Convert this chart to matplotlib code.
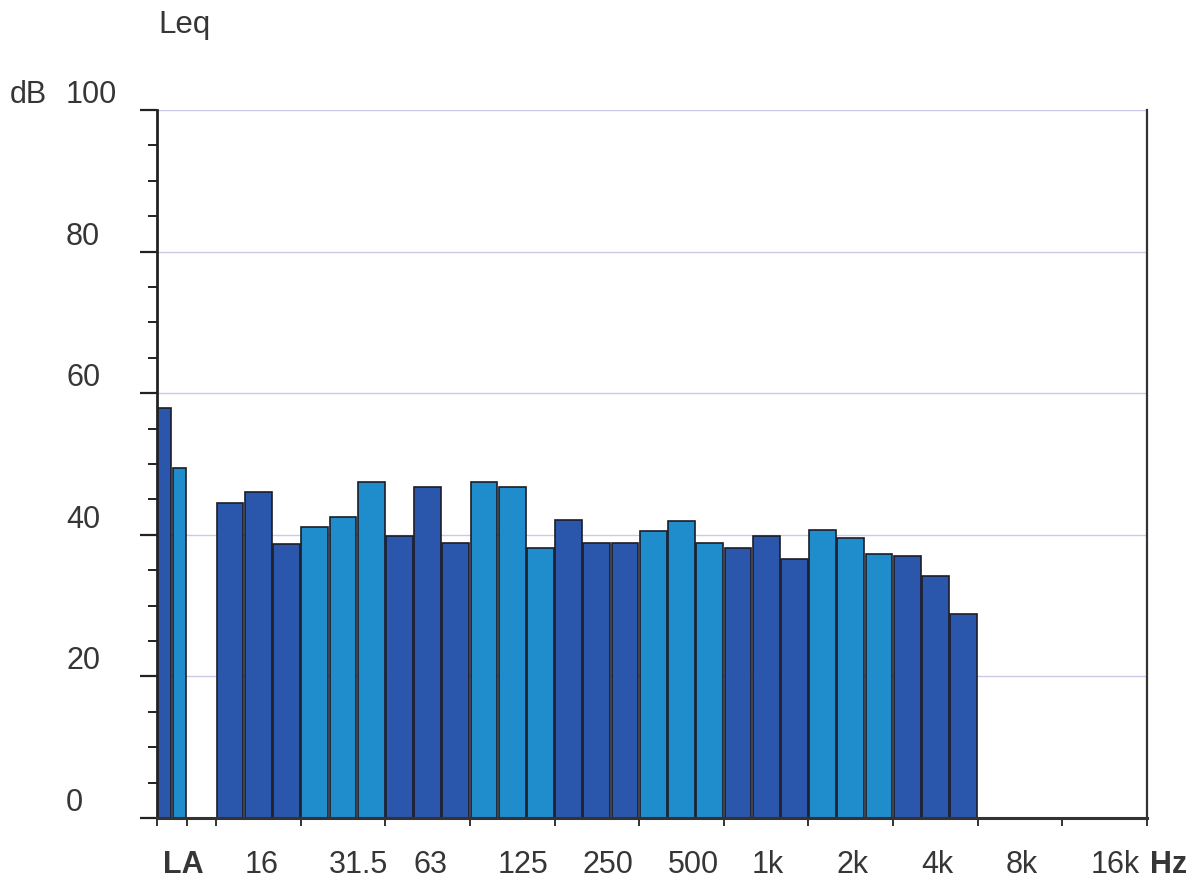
import matplotlib
matplotlib.use("Agg")
import matplotlib.pyplot as plt
from matplotlib.transforms import ScaledTranslation, blended_transform_factory

# ---- data ----
la_labels = ["LA", "LC"]
la_values = [57.9, 49.5]
# third-octave bands 12.5 Hz ... 20 kHz
band_values = [44.5, 46.1, 38.7, 41.1, 42.5, 47.4, 39.9, 46.8, 38.9,
               47.4, 46.7, 38.2, 42.1, 38.9, 38.9, 40.5, 41.9, 38.9,
               38.2, 39.8, 36.6, 40.7, 39.5, 37.3, 37.0, 34.2, 28.8,
               0, 0, 0, 0, 0, 0]
octave_labels = ["16", "31.5", "63", "125", "250", "500", "1k", "2k", "4k", "8k", "16k"]
y_ticks = [0, 20, 40, 60, 80, 100]

plt.rcParams['font.family'] = ['Liberation Sans', 'DejaVu Sans']
DARK = '#2a56ab'
LIGHT = '#1f8ccc'
EDGE = '#1c1c28'
TXT = '#363636'
FS = 22

W, H = 1192, 881
fig = plt.figure(figsize=(W / 100, H / 100), dpi=100)
ax = fig.add_axes([157 / W, 1 - 818 / H, 990 / W, 708 / H])

nb = len(band_values)
ax.set_xlim(-2.09, nb)
ax.set_ylim(0, 100)

# grid
for v in y_ticks[1:]:
    ax.axhline(v, color='#c8cae8', lw=1.0, zorder=0)

# LA / LC bars
ax.bar([-1.84, -1.29], la_values, width=0.47, color=[DARK, LIGHT],
       edgecolor=EDGE, linewidth=1.2, zorder=2)
# third-octave bars
cols = [DARK if (i // 3) % 2 == 0 else LIGHT for i in range(nb)]
ax.bar([i + 0.5 for i in range(nb)], band_values, width=0.95, color=cols,
       edgecolor=EDGE, linewidth=1.2, zorder=2)

# spines
ax.spines['top'].set_visible(False)
ax.spines['left'].set_linewidth(2.0)
ax.spines['left'].set_color('#222222')
ax.spines['bottom'].set_linewidth(2.2)
ax.spines['bottom'].set_color('#333333')
ax.spines['right'].set_linewidth(1.6)
ax.spines['right'].set_color('#333333')
ax.spines['left'].set_zorder(3)
ax.spines['bottom'].set_zorder(3)

# ticks
ax.set_yticks(y_ticks)
ax.set_yticks(range(0, 101, 5), minor=True)
ax.tick_params(axis='y', which='major', length=12.5, width=1.6, color='#222222',
               labelleft=False)
ax.tick_params(axis='y', which='minor', length=6.5, width=1.4, color='#222222')
xt = [-2.09, -1.03] + list(range(0, nb + 1, 3))
ax.set_xticks(xt)
ax.tick_params(axis='x', which='major', length=6, width=1.4, color='#333333',
               labelbottom=False)
ax.tick_params(axis='x', which='minor', length=0)

# y labels (left-aligned, above tick)
tr_y = blended_transform_factory(fig.transFigure, ax.transData) + \
    ScaledTranslation(0, 7 / 100, fig.dpi_scale_trans)
for v in y_ticks:
    ax.text(66 / W, v, str(v), transform=tr_y, ha='left', va='baseline',
            fontsize=FS, color=TXT)

# x labels
tr_x = ax.get_xaxis_transform() + ScaledTranslation(0, -55 / 100, fig.dpi_scale_trans)
ax.text(-2.09 + 6 / 28.2, 0, la_labels[0], transform=tr_x, ha='left', va='baseline',
        fontsize=FS, fontweight='bold', color=TXT)
for k, lab in enumerate(octave_labels):
    ax.text(3 * k + 1, 0, lab, transform=tr_x, ha='left', va='baseline',
            fontsize=FS, color=TXT)
ax.text(nb + 3 / 28.2, 0, "Hz", transform=tr_x, ha='left', va='baseline',
        fontsize=FS, fontweight='bold', color=TXT)

# titles
fig.text(158 / W, 1 - 33 / H, "Leq", ha='left', va='baseline', fontsize=22.5, color=TXT)
fig.text(10 / W, 1 - 103 / H, "dB", ha='left', va='baseline', fontsize=FS, color=TXT)

fig.savefig("out.png", dpi=100)
